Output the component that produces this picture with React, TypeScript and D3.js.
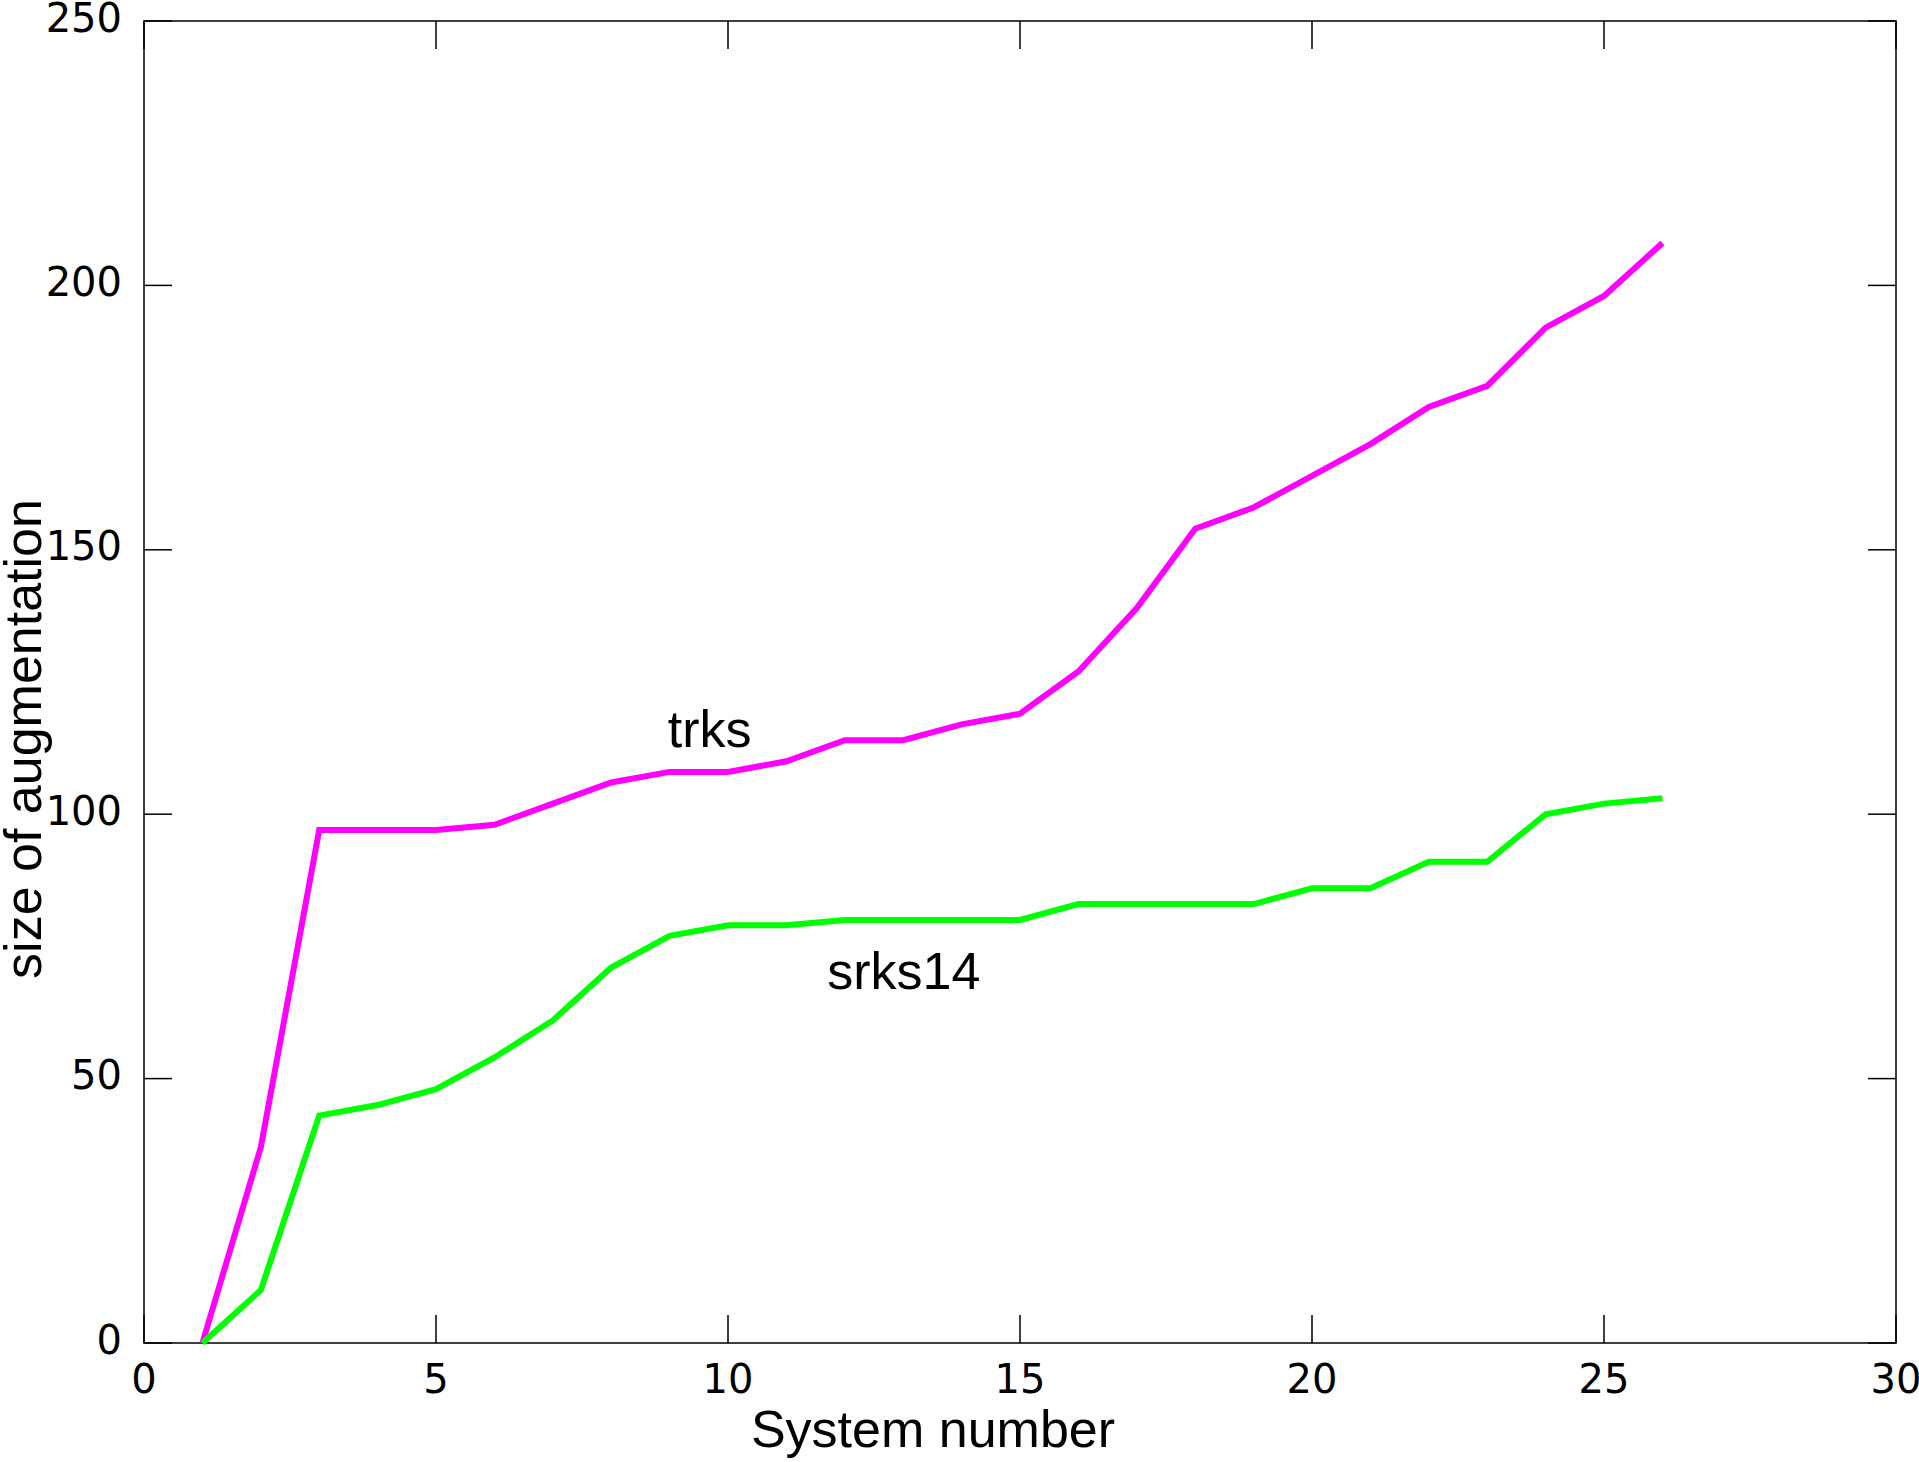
import React from "react";
import * as d3 from "d3";

const systemNumbers = [1,2,3,4,5,6,7,8,9,10,11,12,13,14,15,16,17,18,19,20,21,22,23,24,25,26];
const trksValues = [0,37,97,97,97,98,102,106,108,108,110,114,114,117,119,127,139,154,158,164,170,177,181,192,198,208];
const srks14Values = [0,10,43,45,48,54,61,71,77,79,79,80,80,80,80,83,83,83,83,86,86,91,91,100,102,103];
const xTicks = [0,5,10,15,20,25,30];
const yTicks = [0,50,100,150,200,250];
const seriesNames = ["trks","srks14"];
const xTitle = "System number";
const yTitle = "size of augmentation";

const W = 1919, H = 1462;
const M = { left: 144, right: 1896, top: 21, bottom: 1343 };
const TICK = 28;

export default function App() {
  const x = d3.scaleLinear().domain([0, 30]).range([M.left, M.right]);
  const y = d3.scaleLinear().domain([0, 250]).range([M.bottom, M.top]);
  const line = d3.line<number>().x((_, i) => x(systemNumbers[i])).y(d => y(d));

  const tickFont = "'DejaVu Sans', sans-serif";
  const labelFont = "'Liberation Sans', Arial, sans-serif";

  return (
    <svg width={W} height={H} style={{ position: "absolute", left: 0, top: 0, background: "#fff" }}>
      <rect x={0} y={0} width={W} height={H} fill="#fff" />
      {xTicks.map(t => (
        <g key={"x" + t}>
          <line x1={x(t)} x2={x(t)} y1={M.bottom} y2={M.bottom - TICK} stroke="#000" strokeWidth={1.5} />
          <line x1={x(t)} x2={x(t)} y1={M.top} y2={M.top + TICK} stroke="#000" strokeWidth={1.5} />
          <text x={x(t)} y={M.bottom + 50} textAnchor="middle" fontFamily={tickFont} fontSize={40} fill="#000">{t}</text>
        </g>
      ))}
      {yTicks.map(t => (
        <g key={"y" + t}>
          <line x1={M.left} x2={M.left + TICK} y1={y(t)} y2={y(t)} stroke="#000" strokeWidth={1.5} />
          <line x1={M.right} x2={M.right - TICK} y1={y(t)} y2={y(t)} stroke="#000" strokeWidth={1.5} />
          <text x={122} y={y(t) + 10.5} textAnchor="end" fontFamily={tickFont} fontSize={40} fill="#000">{t}</text>
        </g>
      ))}
      <rect x={M.left} y={M.top} width={M.right - M.left} height={M.bottom - M.top} fill="none" stroke="#000" strokeWidth={1.5} />
      <path d={line(trksValues) || ""} fill="none" stroke="#ff00ff" strokeWidth={6} strokeLinejoin="miter" />
      <path d={line(srks14Values) || ""} fill="none" stroke="#00ff00" strokeWidth={6} strokeLinejoin="miter" />
      <text x={x(8.97)} y={y(112.8)} fontFamily={labelFont} fontSize={52} fill="#000">{seriesNames[0]}</text>
      <text x={x(11.7)} y={y(67)} fontFamily={labelFont} fontSize={52} fill="#000">{seriesNames[1]}</text>
      <text x={933} y={1447} textAnchor="middle" fontFamily={labelFont} fontSize={52} fill="#000">{xTitle}</text>
      <text transform={`translate(41,739) rotate(-90)`} textAnchor="middle" fontFamily={labelFont} fontSize={52} fill="#000">{yTitle}</text>
    </svg>
  );
}
